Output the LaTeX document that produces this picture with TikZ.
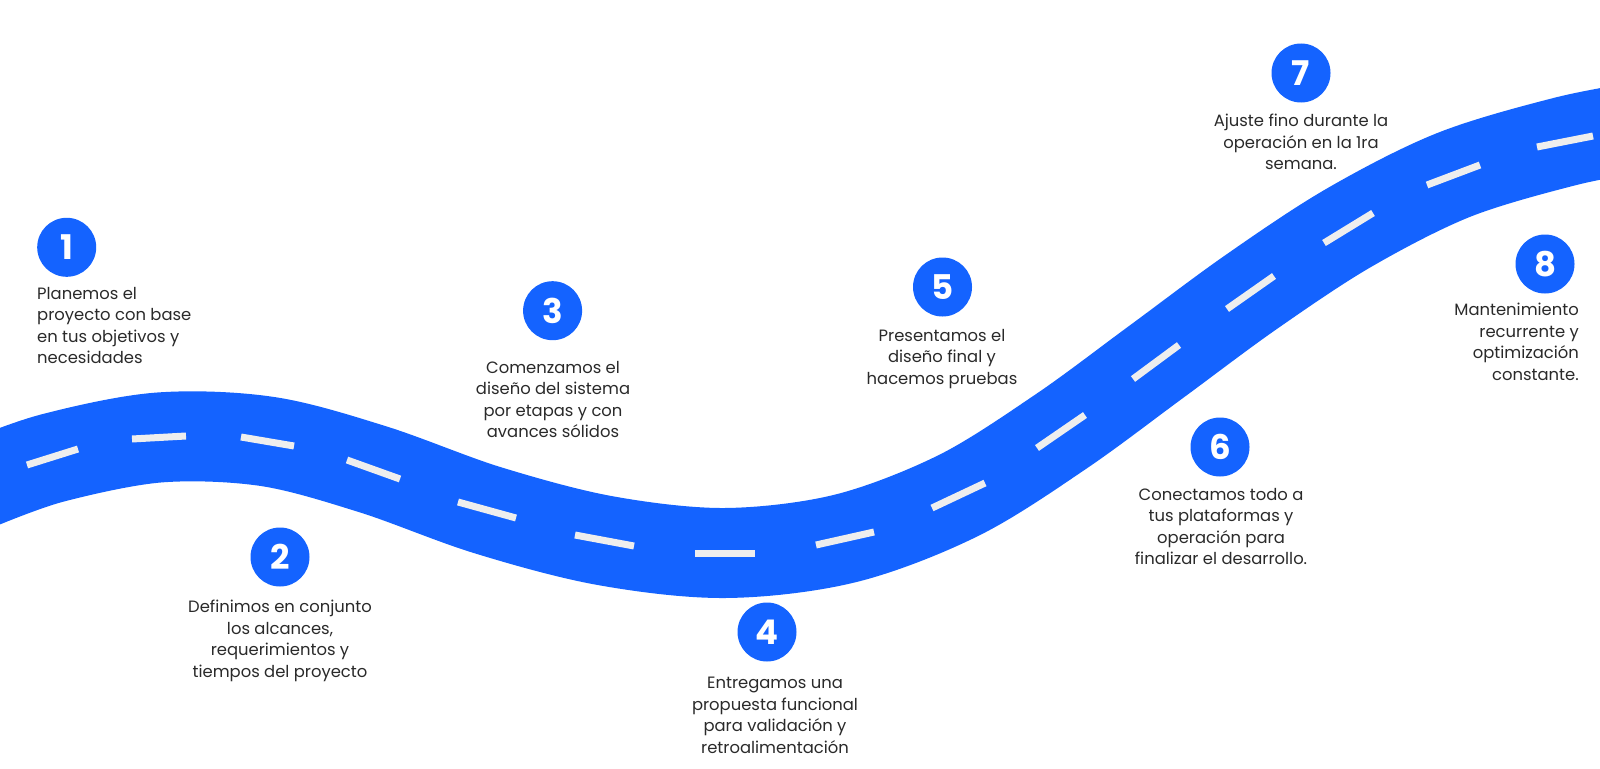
\documentclass[tikz,border=0pt]{standalone}
\usepackage{fontspec}
\setmainfont{Poppins}
\definecolor{roadblue}{HTML}{1463FF}
\definecolor{dashgray}{HTML}{EEEEEE}
\definecolor{txtgray}{HTML}{2A2A2A}
\begin{document}
\begin{tikzpicture}[x=1pt,y=-1pt,
  road/.style={line width=90pt, draw=roadblue},
  laneline/.style={line width=7pt, draw=dashgray},
  stepnum/.style={circle, fill=roadblue, minimum size=59pt, inner sep=0pt, text=white,
    font=\fontsize{34}{34}\selectfont\bfseries},
  desc/.style={text=txtgray, font=\fontsize{16.4}{21.5}\selectfont, inner sep=0pt, align=center, anchor=north}]
\useasboundingbox (0,0) rectangle (1600,768);
\fill[white] (0,0) rectangle (1600,768);
% road
\draw[road] plot[smooth, tension=0.55] coordinates {(-20,484) (52.5,458) (159,437.5) (267.5,441.5) (373.5,469.5) (487,510) (604.5,540.5) (725,553) (845,538.5) (958.5,495.5) (1061,431.5) (1156,362) (1250.5,292.5) (1348.5,228) (1453.5,175) (1565,141.5) (1640,127)};
% lane marks
\draw[laneline] (27,465) -- (78,449);
\draw[laneline] (132,439) -- (186,436);
\draw[laneline] (241,437) -- (294,446);
\draw[laneline] (347,460) -- (400,479);
\draw[laneline] (458,502) -- (516,518);
\draw[laneline] (575,535) -- (634,546);
\draw[laneline] (695,553) -- (755,553);
\draw[laneline] (816,545) -- (874,532);
\draw[laneline] (932,508) -- (985,483);
\draw[laneline] (1037,448) -- (1085,415);
\draw[laneline] (1133,379) -- (1179,345);
\draw[laneline] (1227,309) -- (1274,276);
\draw[laneline] (1324,243) -- (1373,213);
\draw[laneline] (1427,185) -- (1480,165);
\draw[laneline] (1537,147) -- (1593,136);
% steps
\node[stepnum] (n1) at (66.7,247.3) {1};
\node[stepnum] (n2) at (280,557) {2};
\node[stepnum] (n3) at (552.6,310.7) {3};
\node[stepnum] (n4) at (767,632) {4};
\node[stepnum] (n5) at (942.5,287) {5};
\node[stepnum] (n6) at (1220,447) {6};
\node[stepnum] (n7) at (1301,73) {7};
\node[stepnum] (n8) at (1545,264) {8};
% descriptions
\node[desc, anchor=north west, align=left] (t1) at (37,287) {Planemos el\\proyecto con base\\en tus objetivos y\\necesidades};
\node[desc] (t2) at (280,600) {Definimos en conjunto\\los alcances,\\requerimientos y\\tiempos del proyecto};
\node[desc] (t3) at (553,361) {Comenzamos el\\diseño del sistema\\por etapas y con\\avances sólidos};
\node[desc] (t4) at (775,677) {Entregamos una\\propuesta funcional\\para validación y\\retroalimentación};
\node[desc] (t5) at (942,329) {Presentamos el\\diseño final y\\hacemos pruebas};
\node[desc] (t6) at (1221,488) {Conectamos todo a\\tus plataformas y\\operación para\\finalizar el desarrollo.};
\node[desc] (t7) at (1301,114) {Ajuste fino durante la\\operación en la 1ra\\semana.};
\node[desc, anchor=north east, align=right] (t8) at (1579,303) {Mantenimiento\\recurrente y\\optimización\\constante.};
\end{tikzpicture}
\end{document}
